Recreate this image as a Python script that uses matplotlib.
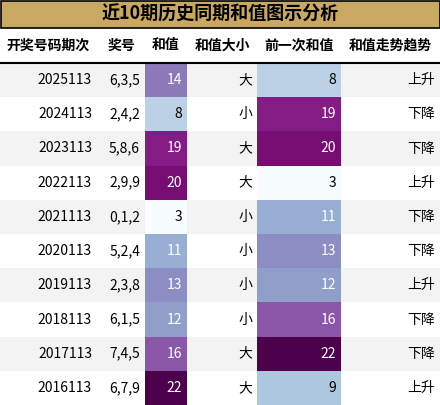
import matplotlib.pyplot as plt
from matplotlib import cm, colors
from matplotlib.patches import Rectangle

plt.rcParams['font.family'] = ['Noto Sans CJK SC', 'DejaVu Sans']

title = '近10期历史同期和值图示分析'
headers = ['开奖号码期次', '奖号', '和值', '和值大小', '前一次和值', '和值走势趋势']
periods = ['2025113', '2024113', '2023113', '2022113', '2021113',
           '2020113', '2019113', '2018113', '2017113', '2016113']
numbers = ['6,3,5', '2,4,2', '5,8,6', '2,9,9', '0,1,2',
           '5,2,4', '2,3,8', '6,1,5', '7,4,5', '6,7,9']
sums = [14, 8, 19, 20, 3, 11, 13, 12, 16, 22]
size = ['大', '小', '大', '大', '小', '小', '小', '小', '大', '大']
prev_sums = [8, 19, 20, 3, 11, 13, 12, 16, 22, 9]
trend = ['上升', '下降', '下降', '上升', '下降', '下降', '上升', '下降', '下降', '上升']

edges = [0, 97, 145, 187, 257, 341, 440]
W, H = 440, 405
title_h, head_h = 28, 35
row_h = (H - title_h - head_h) / len(periods)

cmap = cm.get_cmap('BuPu')
norm = colors.Normalize(vmin=3, vmax=22)

fig = plt.figure(figsize=(4.4, 4.05), dpi=100)
ax = fig.add_axes([0, 0, 1, 1])
ax.set_xlim(0, W)
ax.set_ylim(H, 0)
ax.axis('off')

ax.add_patch(Rectangle((0.5, 0.5), W - 1, title_h - 1, facecolor='#c8a862', edgecolor='black', lw=1.2))
ax.text(W / 2, title_h / 2, title, ha='center', va='center', fontsize=13, fontweight='bold')

hy = title_h + head_h / 2
for i, h in enumerate(headers):
    ax.text((edges[i] + edges[i + 1]) / 2, hy, h, ha='center', va='center', fontsize=10, fontweight='bold')
ax.plot([0, W], [title_h + head_h, title_h + head_h], color='black', lw=1.5)

for r in range(len(periods)):
    y0 = title_h + head_h + r * row_h
    bg = '#f3f3f3' if r % 2 == 0 else 'white'
    ax.add_patch(Rectangle((0, y0), W, row_h, facecolor=bg, edgecolor='none', zorder=0))
    cells = [periods[r], numbers[r], str(sums[r]), size[r], str(prev_sums[r]), trend[r]]
    for c, txt in enumerate(cells):
        tc = 'black'
        if c in (2, 4):
            v = sums[r] if c == 2 else prev_sums[r]
            ax.add_patch(Rectangle((edges[c], y0), edges[c + 1] - edges[c], row_h,
                                   facecolor=cmap(norm(v)), edgecolor='none', zorder=1))
            tc = 'white' if v >= 11 else 'black'
        ax.text(edges[c + 1] - 5, y0 + row_h / 2, txt, ha='right', va='center',
                fontsize=10, color=tc, zorder=2)

fig.savefig('out.png', dpi=100)
